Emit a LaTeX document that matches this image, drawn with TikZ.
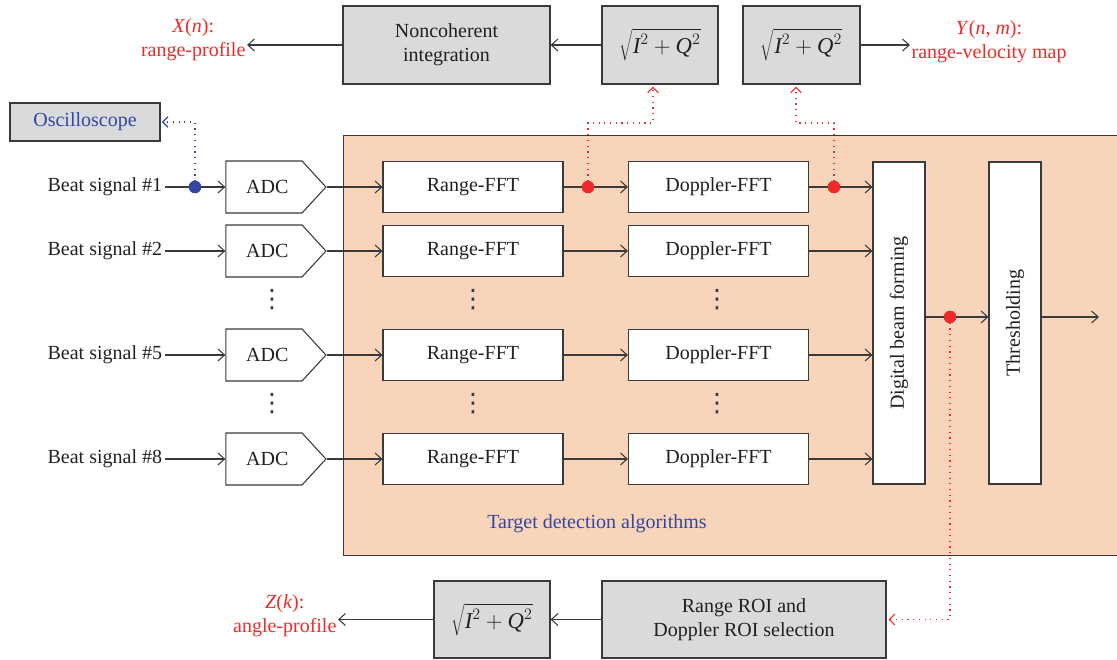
\documentclass[tikz,border=0pt]{standalone}
\usepackage{fontspec}
\setmainfont{Liberation Serif}
\newfontfamily\dvfont{DejaVu Sans}
\usetikzlibrary{arrows.meta,shapes.symbols}
\definecolor{boxgray}{HTML}{D9DADC}
\definecolor{orfill}{HTML}{F7D4BA}
\definecolor{sigred}{HTML}{EE2A2A}
\definecolor{sigblue}{HTML}{3346A3}
\definecolor{ink}{HTML}{3A3A3A}
\definecolor{txt}{HTML}{231F20}
\newcommand{\myvdots}{{\dvfont\fontsize{19}{19}\selectfont ⋮}}
\newcommand{\magn}{{\fontsize{17}{20}\selectfont$\sqrt{\textit{I}^2+\textit{Q}^2}$}}
\begin{document}
\begin{tikzpicture}[x=0.75pt,y=-0.75pt,
  font=\fontsize{15}{18}\selectfont, text=txt,
  box/.style={draw=ink, line width=0.8pt, fill=white, inner sep=0pt, align=center},
  gbox/.style={box, fill=boxgray},
  rowbox/.style={box, minimum width=135pt, minimum height=38.25pt},
  adcbox/.style={draw=ink, line width=0.8pt, fill=white, signal, signal to=east,
     signal pointer angle=95, minimum width=75pt, minimum height=39pt, inner sep=0pt},
  arr/.style={draw=ink, line width=0.8pt, -{Straight Barb[length=5pt,width=9pt]}},
  rdot/.style={draw=sigred, line width=0.9pt, dash pattern=on 0.9pt off 3.4pt,
     -{Straight Barb[length=4pt,width=8pt]}},
  bdot/.style={rdot, draw=sigblue},
  rdotfill/.style={circle, fill=sigred, inner sep=0pt, minimum size=9.5pt},
  bdotfill/.style={circle, fill=sigblue, inner sep=0pt, minimum size=9.5pt},
  vd/.style={inner sep=0pt, text=ink},
]
\useasboundingbox (0,0) rectangle (1117,660);
\clip (0,0) rectangle (1117,660);

% background region
\node[draw=ink, fill=orfill, line width=0.8pt, anchor=north west, inner sep=0pt,
  minimum width=590.25pt, minimum height=315pt] (tda) at (343,135) {};
\node[text=sigblue] (tdal) at (597,524) {Target detection algorithms};

% top row
\node[gbox, minimum width=155.25pt, minimum height=58.5pt] (nonc) at (446.5,45) {Noncoherent\\integration};
\node[gbox, minimum width=87pt, minimum height=58.5pt] (sq1) at (660,45) {\magn};
\node[gbox, minimum width=87.75pt, minimum height=58.5pt] (sq2) at (801.5,45) {\magn};
\node[text=sigred, align=center, anchor=east, inner sep=1pt] (xl) at (247,40) {\textit{X}(\textit{n}):\\range-profile};
\node[text=sigred, align=center, anchor=west, inner sep=1pt] (yl) at (910,42) {\textit{Y}(\textit{n}, \textit{m}):\\range-velocity map};
\node[gbox, minimum width=112.5pt, minimum height=28.5pt, text=sigblue] (osc) at (85,122) {Oscilloscope};

% rows
\foreach \i/\y in {1/187,2/251,5/355,8/459}{
  \node[anchor=east, inner sep=2pt] (b\i) at (165,\y) {Beat signal \#\i};
  \node[adcbox] (adc\i) at (264,\y) {\hspace*{5pt}ADC};
  \node[rowbox] (rf\i) at (473,\y) {Range-FFT};
  \node[rowbox] (df\i) at (718.5,\y) {Doppler-FFT};
}
\node[vd] (v1) at (272,300) {\myvdots};
\node[vd] (v2) at (272,404) {\myvdots};
\node[vd] (v3) at (473,300) {\myvdots};
\node[vd] (v4) at (473,404) {\myvdots};
\node[vd] (v5) at (717,300) {\myvdots};
\node[vd] (v6) at (717,404) {\myvdots};

\node[box, minimum width=241.5pt, minimum height=39pt, rotate=90] (dbf) at (899,323) {Digital beam forming};
\node[box, minimum width=241.5pt, minimum height=39pt, rotate=90] (thr) at (1015,323) {Thresholding};

% bottom row
\node[gbox, minimum width=213pt, minimum height=57.75pt] (roi) at (744,619.5) {Range ROI and\\Doppler ROI selection};
\node[gbox, minimum width=87pt, minimum height=57.75pt] (sq3) at (492,619.5) {\magn};
\node[text=sigred, align=center, anchor=east, inner sep=1pt] (zl) at (338,616) {\textit{Z}(\textit{k}):\\angle-profile};

% connectors
\foreach \i in {1,2,5,8}{
  \draw[arr] (adc\i.west -| b\i.east) -- (adc\i.west);
  \draw[arr] (adc\i.east) -- (rf\i.west);
  \draw[arr] (rf\i.east) -- (df\i.west);
  \draw[arr] (df\i.east) -- (df\i.east -| dbf.north);
}
\coordinate (out) at (1099,317);
\coordinate (c1) at (653,123);
\coordinate (c2) at (796,123);
\coordinate (cb) at (195,122);
\coordinate (d3c) at (950,317);

\draw[arr] (dbf.south |- d3c) -- (thr.north |- d3c);
\draw[arr] (thr.south |- d3c) -- (out);

\draw[arr] (sq1.west) -- (nonc.east);
\draw[arr] (nonc.west) -- (xl.east |- nonc.west);
\draw[arr] (sq2.east) -- (yl.west |- sq2.east);
\draw[arr] (roi.west) -- (sq3.east);
\draw[arr] (sq3.west) -- (zl.east |- sq3.west);

\draw[rdot, shorten >=1.5pt] (588,187) |- (c1) -- (c1 |- sq1.south);
\draw[rdot, shorten >=1.5pt] (834,187) |- (c2) -- (c2 |- sq2.south);
\draw[rdot, shorten >=1.5pt] (d3c) |- (roi.east);
\draw[bdot, shorten >=1pt] (195,187) -- (cb) -- (osc.east);

\node[rdotfill] (d1) at (588,187) {};
\node[rdotfill] (d2) at (834,187) {};
\node[rdotfill] (d3) at (d3c) {};
\node[bdotfill] (bd) at (195,187) {};
\end{tikzpicture}
\end{document}
